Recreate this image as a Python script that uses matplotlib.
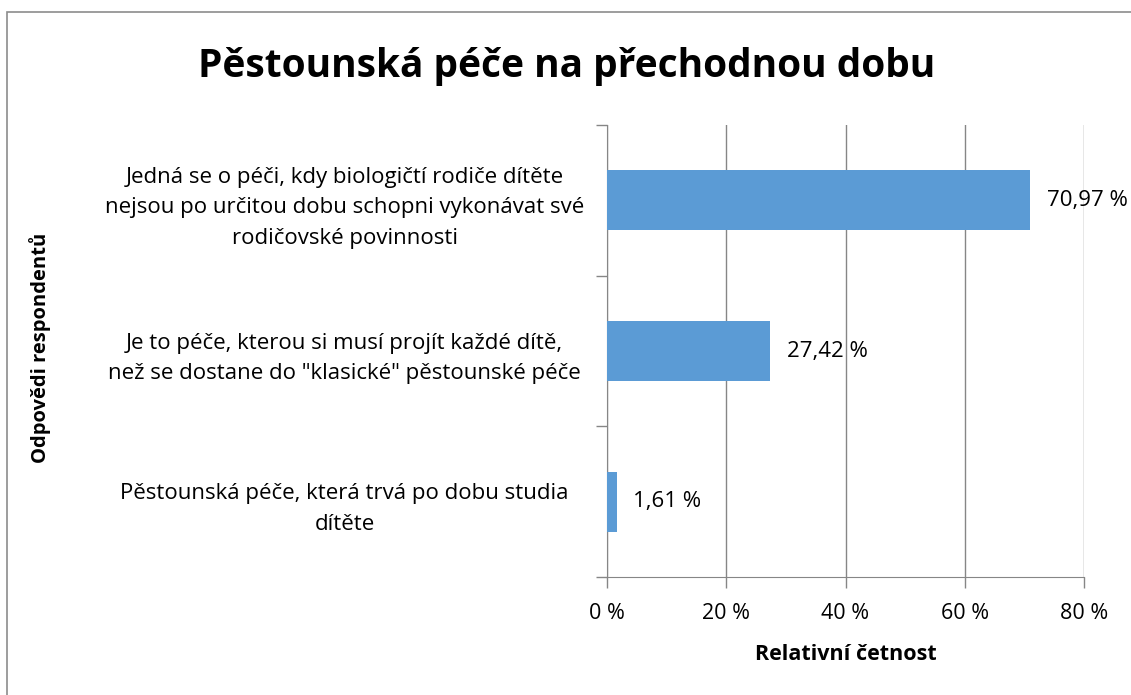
import matplotlib
matplotlib.use("Agg")
import matplotlib.pyplot as plt
from matplotlib.patches import Rectangle

# ── Data ──────────────────────────────────────────────────────────
categories = [
    "Jedná se o péči, kdy biologičtí rodiče dítěte\nnejsou po určitou dobu schopni vykonávat své\nrodičovské povinnosti",
    "Je to péče, kterou si musí projít každé dítě,\nnež se dostane do \"klasické\" pěstounské péče",
    "Pěstounská péče, která trvá po dobu studia\ndítěte",
]
values = [70.97, 27.42, 1.61]
value_labels = ["70,97 %", "27,42 %", "1,61 %"]
x_ticks = [0, 20, 40, 60, 80]
x_tick_labels = ["0 %", "20 %", "40 %", "60 %", "80 %"]

BAR_COLOR = "#5b9bd5"
GRID_COLOR = "#868686"
FONT = ["Open Sans", "DejaVu Sans"]

plt.rcParams["font.family"] = FONT

W, H = 1131, 695
fig = plt.figure(figsize=(W / 100, H / 100), dpi=100, facecolor="white")

# outer chart border (only top/left visible in the crop)
fig.patches.append(Rectangle((7 / W, -0.1), 1.2, (H - 12) / H + 0.1,
                             transform=fig.transFigure, fill=False,
                             edgecolor="#8c8c8c", linewidth=1.2))

ax = fig.add_axes([607 / W, 1 - 577 / H, (1084 - 607) / W, (577 - 125) / H])

# reversed order so first category is on top
ypos = list(range(len(categories)))[::-1]
ax.barh(ypos, values, height=0.4, color=BAR_COLOR, zorder=3)

for y, v, lab in zip(ypos, values, value_labels):
    ax.text(v + 2.8, y, lab, va="center", ha="left", fontsize=16, color="black")

ax.set_xlim(0, 80)
ax.set_ylim(-0.5, 2.5)
ax.set_xticks(x_ticks)
ax.set_xticklabels(x_tick_labels, fontsize=15.5)
ax.xaxis.grid(True, color=GRID_COLOR, linewidth=1.0, zorder=0)

# category ticks sit on the boundaries, labels in the middle
ax.set_yticks([-0.5, 0.5, 1.5, 2.5])
ax.set_yticklabels([])
ax.set_yticks(ypos, minor=True)
ax.set_yticklabels(categories, minor=True, fontsize=16, ha="center",
                   linespacing=1.6)
ax.tick_params(axis="y", which="minor", length=0, pad=189)
ax.tick_params(axis="y", which="major", length=8, color=GRID_COLOR, width=1.0)
ax.tick_params(axis="x", length=8, color=GRID_COLOR, width=1.0, pad=11)

for side in ["top", "right"]:
    ax.spines[side].set_visible(False)
ax.spines["left"].set_color(GRID_COLOR)
ax.spines["bottom"].set_color(GRID_COLOR)

ax.set_xlabel("Relativní četnost", fontsize=15.5, fontweight="bold", labelpad=14)

fig.text(567 / W, 1 - 67 / H, "Pěstounská péče na přechodnou dobu",
         ha="center", va="center", fontsize=28, fontweight="bold")
fig.text(40 / W, 1 - 348 / H, "Odpovědi respondentů", rotation=90,
         ha="center", va="center", fontsize=14.5, fontweight="bold")

plt.savefig("out.png", dpi=100, facecolor="white")
